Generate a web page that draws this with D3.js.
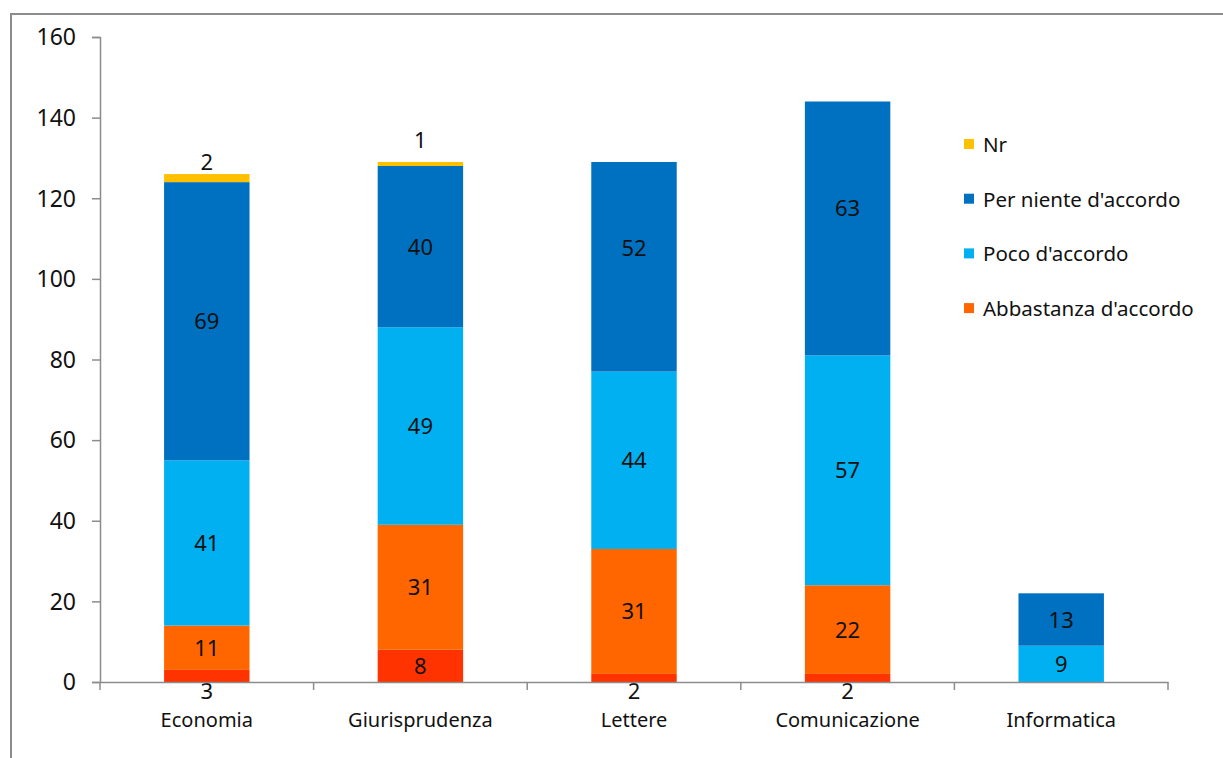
<!DOCTYPE html>
<html>
<head>
<meta charset="utf-8">
<script src="https://cdn.jsdelivr.net/npm/d3@7"></script>
<style>
  html, body { margin: 0; padding: 0; background: #fff; }
  svg text { font-family: "Noto Sans", "Open Sans", sans-serif; fill: #111; }
</style>
</head>
<body>
<svg id="chart" width="1223" height="758"></svg>
<script>
// Facoltà e risposte (conteggi)
const categories = ["Economia", "Giurisprudenza", "Lettere", "Comunicazione", "Informatica"];
const seriesNames = ["Molto d'accordo", "Abbastanza d'accordo", "Poco d'accordo", "Per niente d'accordo", "Nr"];
const molto      = [3, 8, 2, 2, 0];
const abbastanza = [11, 31, 31, 22, 0];
const poco       = [41, 49, 44, 57, 9];
const perNiente  = [69, 40, 52, 63, 13];
const nr         = [2, 1, 0, 0, 0];
const yTicks     = [0, 20, 40, 60, 80, 100, 120, 140, 160];
const legendOrder = ["Nr", "Per niente d'accordo", "Poco d'accordo", "Abbastanza d'accordo"];

const colors = {
  "Molto d'accordo": "#FF3300",
  "Abbastanza d'accordo": "#FF6600",
  "Poco d'accordo": "#00B0F0",
  "Per niente d'accordo": "#0070C0",
  "Nr": "#FFC000"
};

// spostamenti verticali (px) di alcune etichette, come impaginate nel foglio originale
const labelNudge = {
  "Per niente d'accordo|Lettere": -19,
  "Per niente d'accordo|Comunicazione": -20,
  "Nr|Giurisprudenza": -10
};

const rows = categories.map((c, i) => ({
  cat: c,
  "Molto d'accordo": molto[i],
  "Abbastanza d'accordo": abbastanza[i],
  "Poco d'accordo": poco[i],
  "Per niente d'accordo": perNiente[i],
  "Nr": nr[i]
}));

const svg = d3.select("#chart");

// cornice esterna
svg.append("path")
  .attr("d", "M11,800 L11,14 L1240,14")
  .attr("fill", "none")
  .attr("stroke", "#8c8c8c")
  .attr("stroke-width", 2);

const plot = { left: 100, right: 1168, top: 37, bottom: 682 };

const x = d3.scaleBand().domain(categories).range([plot.left, plot.right]).paddingInner(0.6).paddingOuter(0.3);
const xBand = d3.scaleBand().domain(categories).range([plot.left, plot.right]);
const y = d3.scaleLinear().domain([0, 160]).range([plot.bottom, plot.top]);

const stack = d3.stack().keys(seriesNames);
const layers = stack(rows);

const g = svg.append("g");

layers.forEach(layer => {
  g.selectAll(null)
    .data(layer.filter(d => d[1] - d[0] > 0))
    .enter().append("rect")
    .attr("x", d => x(d.data.cat))
    .attr("width", x.bandwidth())
    .attr("y", d => y(d[1]))
    .attr("height", d => y(d[0]) - y(d[1]))
    .attr("fill", colors[layer.key]);
});

// etichette dei valori
layers.forEach(layer => {
  g.selectAll(null)
    .data(layer.filter(d => d[1] - d[0] > 0))
    .enter().append("text")
    .attr("x", d => x(d.data.cat) + x.bandwidth() / 2)
    .attr("y", d => {
      const v = d[1] - d[0];
      const nudge = labelNudge[layer.key + "|" + d.data.cat] || 0;
      if (layer.key === "Nr") return y(d[1]) - 4 + nudge;
      if (layer.key === "Molto d'accordo" && v < 5) return y(0) + 17;
      return (y(d[0]) + y(d[1])) / 2 + 8 + nudge;
    })
    .attr("text-anchor", "middle")
    .attr("font-size", 22)
    .text(d => d[1] - d[0]);
});

// asse Y
const yAxis = svg.append("g")
  .attr("transform", `translate(${plot.left},0)`)
  .call(d3.axisLeft(y).tickValues(yTicks).tickSize(8).tickPadding(16));
yAxis.select(".domain").attr("stroke", "#8c8c8c").attr("stroke-width", 1.5);
yAxis.selectAll(".tick line").attr("stroke", "#8c8c8c").attr("stroke-width", 1.5);
yAxis.selectAll(".tick text").attr("font-size", 23).attr("font-family", "Noto Sans").attr("fill", "#111").attr("dy", "0.34em");

// asse X
const xAxis = svg.append("g")
  .attr("transform", `translate(0,${plot.bottom})`)
  .call(d3.axisBottom(xBand).tickSize(0).tickPadding(0));
xAxis.select(".domain").attr("stroke", "#8c8c8c").attr("stroke-width", 1.5);
xAxis.selectAll(".tick text")
  .attr("font-size", 20).attr("font-family", "Noto Sans").attr("fill", "#111")
  .attr("y", 45).attr("dy", 0);
// tacche tra le categorie
const edges = categories.map(c => xBand(c)).concat([plot.right]);
xAxis.selectAll(".sep").data(edges).enter().append("line")
  .attr("x1", d => d).attr("x2", d => d)
  .attr("y1", 0).attr("y2", 8)
  .attr("stroke", "#8c8c8c").attr("stroke-width", 1.5);

// legenda
const legend = svg.append("g").attr("transform", "translate(964,145)");
legendOrder.forEach((name, i) => {
  const row = legend.append("g").attr("transform", `translate(0,${i * 54.7})`);
  row.append("rect").attr("x", 0).attr("y", -6).attr("width", 10).attr("height", 10).attr("fill", colors[name]);
  row.append("text").attr("x", 19).attr("y", 7).attr("font-size", 20.5).text(name);
});
</script>
</body>
</html>
